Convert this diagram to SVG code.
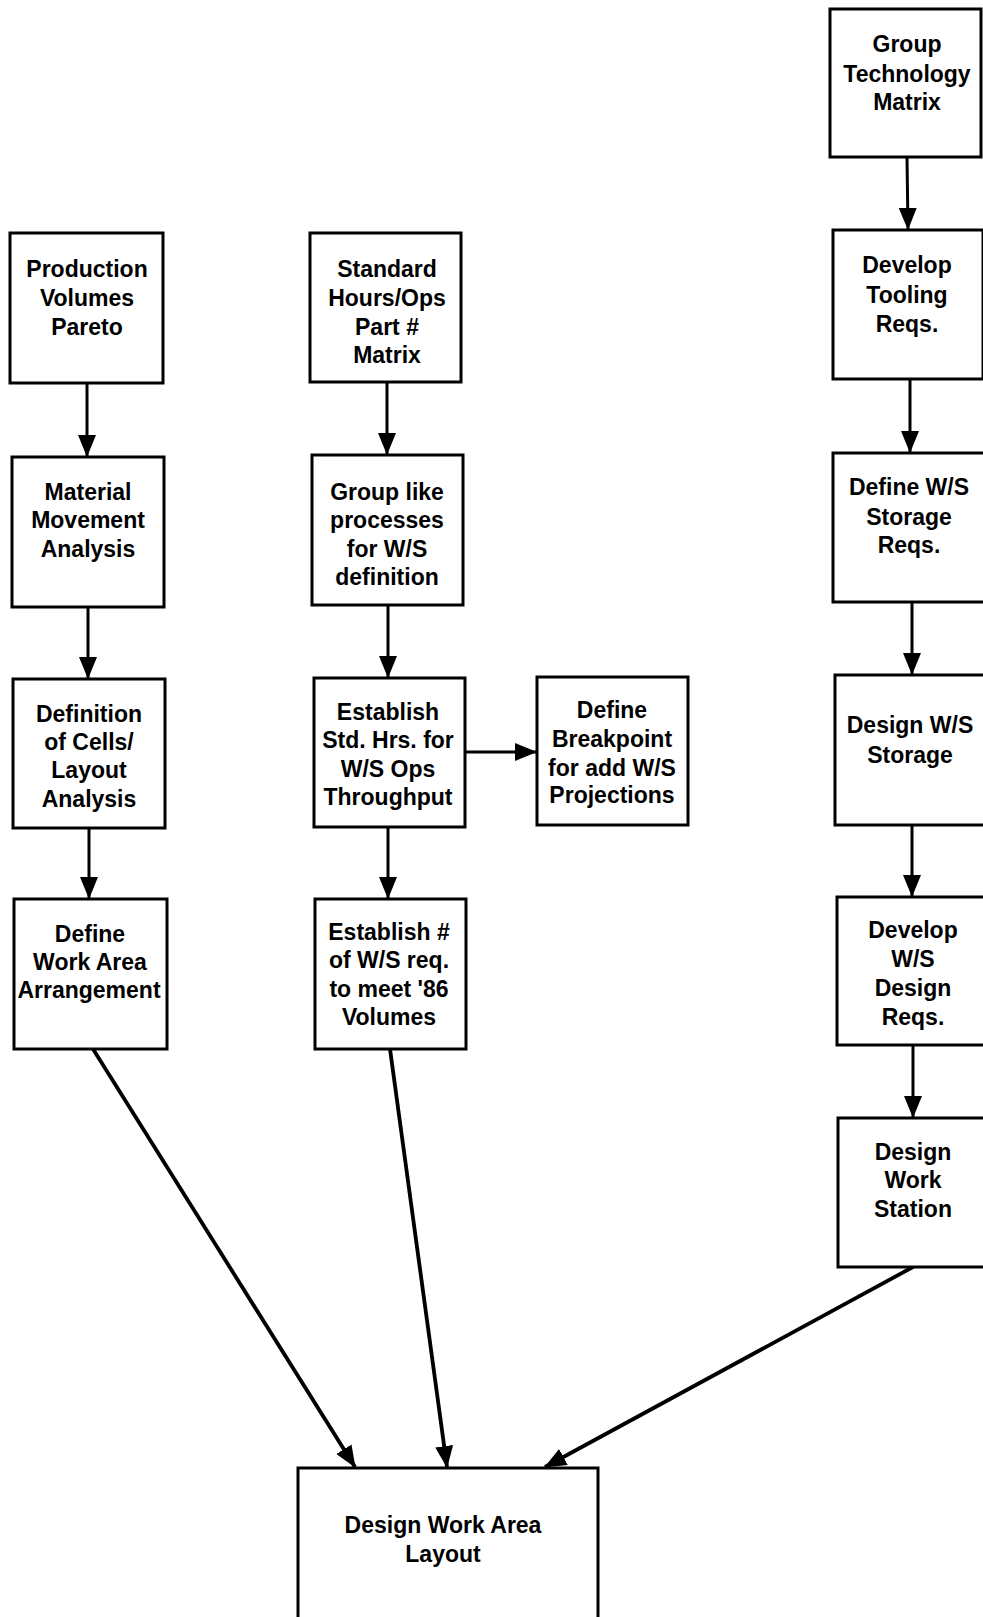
<svg xmlns="http://www.w3.org/2000/svg" width="983" height="1617" viewBox="0 0 983 1617">
  <style>
    .box { fill: #fff; stroke: #000; stroke-width: 3; }
    .lbl { font-family: "Liberation Sans", Arial, Helvetica, sans-serif; font-weight: bold; font-size: 23px; fill: #000; text-anchor: middle; }
    .edge { fill: none; stroke: #000; stroke-width: 3; marker-end: url(#arrow); }
    .edge.long { stroke-width: 3.8; }
  </style>
  <defs>
    <marker id="arrow" viewBox="0 0 22 18" markerWidth="22" markerHeight="18" refX="21" refY="9" orient="auto" markerUnits="userSpaceOnUse">
      <path d="M0,0 L22,9 L0,18 z" fill="#000"/>
    </marker>
  </defs>
  <rect width="983" height="1617" fill="#fff"/>

  <!-- connectors -->
  <g id="connectors">
    <line class="edge" x1="87" y1="383" x2="87" y2="456"/>
    <line class="edge" x1="88" y1="607" x2="88" y2="678"/>
    <line class="edge" x1="89" y1="828" x2="89" y2="898"/>
    <line class="edge" x1="387" y1="382" x2="387" y2="454"/>
    <line class="edge" x1="388" y1="605" x2="388" y2="677"/>
    <line class="edge" x1="388" y1="827" x2="388" y2="898"/>
    <line class="edge" x1="465" y1="752" x2="536" y2="752"/>
    <line class="edge" x1="907" y1="157" x2="908" y2="229"/>
    <line class="edge" x1="910" y1="379" x2="910" y2="452"/>
    <line class="edge" x1="912" y1="602" x2="912" y2="674"/>
    <line class="edge" x1="912" y1="825" x2="912" y2="896"/>
    <line class="edge" x1="913" y1="1045" x2="913" y2="1117"/>
    <line class="edge long" x1="93" y1="1049" x2="355" y2="1467"/>
    <line class="edge long" x1="390" y1="1049" x2="447" y2="1467"/>
    <line class="edge long" x1="913" y1="1267" x2="545" y2="1467"/>
  </g>

  <!-- left column -->
  <g id="production-volumes">
    <rect class="box" x="10" y="233" width="153" height="150"/>
    <text class="lbl" x="87" y="277">Production</text>
    <text class="lbl" x="87" y="306">Volumes</text>
    <text class="lbl" x="87" y="335">Pareto</text>
  </g>
  <g id="material-movement">
    <rect class="box" x="12" y="457" width="152" height="150"/>
    <text class="lbl" x="88" y="500">Material</text>
    <text class="lbl" x="88" y="528">Movement</text>
    <text class="lbl" x="88" y="557">Analysis</text>
  </g>
  <g id="definition-of-cells">
    <rect class="box" x="13" y="679" width="152" height="149"/>
    <text class="lbl" x="89" y="722">Definition</text>
    <text class="lbl" x="89" y="750">of Cells/</text>
    <text class="lbl" x="89" y="778">Layout</text>
    <text class="lbl" x="89" y="807">Analysis</text>
  </g>
  <g id="define-work-area">
    <rect class="box" x="14" y="899" width="153" height="150"/>
    <text class="lbl" x="90" y="942">Define</text>
    <text class="lbl" x="90" y="970">Work Area</text>
    <text class="lbl" x="89" y="998">Arrangement</text>
  </g>

  <!-- middle column -->
  <g id="standard-hours">
    <rect class="box" x="310" y="233" width="151" height="149"/>
    <text class="lbl" x="387" y="277">Standard</text>
    <text class="lbl" x="387" y="306">Hours/Ops</text>
    <text class="lbl" x="387" y="335">Part #</text>
    <text class="lbl" x="387" y="363">Matrix</text>
  </g>
  <g id="group-like-processes">
    <rect class="box" x="312" y="455" width="151" height="150"/>
    <text class="lbl" x="387" y="500">Group like</text>
    <text class="lbl" x="387" y="528">processes</text>
    <text class="lbl" x="387" y="557">for W/S</text>
    <text class="lbl" x="387" y="585">definition</text>
  </g>
  <g id="establish-std-hrs">
    <rect class="box" x="314" y="678" width="151" height="149"/>
    <text class="lbl" x="388" y="720">Establish</text>
    <text class="lbl" x="388" y="748">Std. Hrs. for</text>
    <text class="lbl" x="388" y="777">W/S Ops</text>
    <text class="lbl" x="388" y="805">Throughput</text>
  </g>
  <g id="define-breakpoint">
    <rect class="box" x="537" y="677" width="151" height="148"/>
    <text class="lbl" x="612" y="718">Define</text>
    <text class="lbl" x="612" y="747">Breakpoint</text>
    <text class="lbl" x="612" y="776">for add W/S</text>
    <text class="lbl" x="612" y="803">Projections</text>
  </g>
  <g id="establish-ws-count">
    <rect class="box" x="315" y="899" width="151" height="150"/>
    <text class="lbl" x="389" y="940">Establish #</text>
    <text class="lbl" x="389" y="968">of W/S req.</text>
    <text class="lbl" x="389" y="997">to meet '86</text>
    <text class="lbl" x="389" y="1025">Volumes</text>
  </g>

  <!-- right column -->
  <g id="group-technology">
    <rect class="box" x="830" y="9" width="151" height="148"/>
    <text class="lbl" x="907" y="52">Group</text>
    <text class="lbl" x="907" y="82">Technology</text>
    <text class="lbl" x="907" y="110">Matrix</text>
  </g>
  <g id="tooling-reqs">
    <rect class="box" x="833" y="230" width="150" height="149"/>
    <text class="lbl" x="907" y="273">Develop</text>
    <text class="lbl" x="907" y="303">Tooling</text>
    <text class="lbl" x="907" y="332">Reqs.</text>
  </g>
  <g id="storage-reqs">
    <rect class="box" x="833" y="453" width="152" height="149"/>
    <text class="lbl" x="909" y="495">Define W/S</text>
    <text class="lbl" x="909" y="525">Storage</text>
    <text class="lbl" x="909" y="553">Reqs.</text>
  </g>
  <g id="design-storage">
    <rect class="box" x="835" y="675" width="154" height="150"/>
    <text class="lbl" x="910" y="733">Design W/S</text>
    <text class="lbl" x="910" y="763">Storage</text>
  </g>
  <g id="ws-design-reqs">
    <rect class="box" x="837" y="897" width="154" height="148"/>
    <text class="lbl" x="913" y="938">Develop</text>
    <text class="lbl" x="913" y="967">W/S</text>
    <text class="lbl" x="913" y="996">Design</text>
    <text class="lbl" x="913" y="1025">Reqs.</text>
  </g>
  <g id="design-work-station">
    <rect class="box" x="838" y="1118" width="154" height="149"/>
    <text class="lbl" x="913" y="1160">Design</text>
    <text class="lbl" x="913" y="1188">Work</text>
    <text class="lbl" x="913" y="1217">Station</text>
  </g>

  <!-- final step -->
  <g id="design-work-area-layout">
    <rect class="box" x="298" y="1468" width="300" height="160"/>
    <text class="lbl" x="443" y="1533">Design Work Area</text>
    <text class="lbl" x="443" y="1562">Layout</text>
  </g>
</svg>
